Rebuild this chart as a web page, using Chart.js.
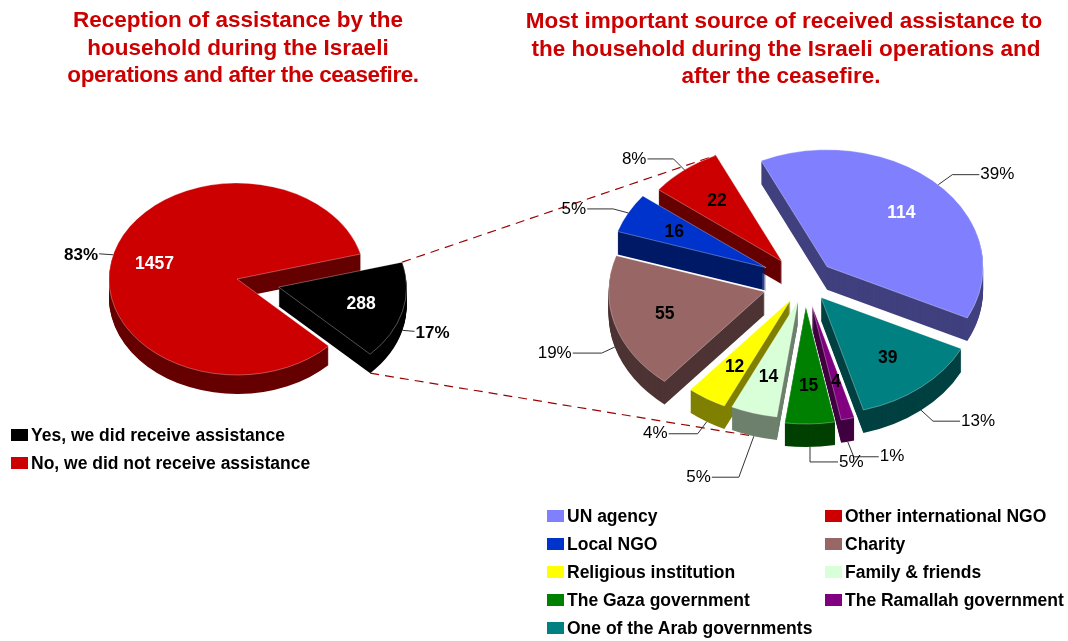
<!DOCTYPE html>
<html>
<head>
<meta charset="utf-8">
<script src="https://cdn.jsdelivr.net/npm/chart.js@4/dist/chart.umd.min.js"></script>
<style>
  html, body { margin: 0; padding: 0; background: #fff; }
  body { position: relative; width: 1068px; height: 641px; overflow: hidden; font-family: "Liberation Sans", Arial, sans-serif; }
  canvas { position: absolute; left: 0; top: 0; }
  .title { position: absolute; color: #cc0000; font-weight: bold; font-size: 22.5px; line-height: 27.7px; text-align: center; white-space: nowrap; transform: translateX(-50%); }
  .title span { position: relative; }
  .key { position: absolute; color: #000; font-weight: bold; font-size: 17.5px; line-height: 18px; white-space: nowrap; }
  .swatch { position: absolute; width: 17px; height: 12px; }
</style>
</head>
<body>
<canvas id="received"></canvas>
<canvas id="sources"></canvas>
<div class="title" style="left:238px;top:6px">Reception of assistance by the<br>household during the Israeli<br><span style="left:5px;letter-spacing:-0.43px">operations and after the ceasefire.</span></div>
<div class="title" style="left:784px;top:7px">Most important source of received assistance to<br><span style="left:2px">the household during the Israeli operations and</span><br><span style="left:-3px">after the ceasefire.</span></div>
<div id="keys"></div>
<script>
// Assistance received at all
const receivedLabels = ['Yes, we did receive assistance', 'No, we did not receive assistance'];
const receivedValues = [288, 1457];
const receivedPercents = ['17%', '83%'];
const receivedColors = ['#000000', '#cc0000'];
const receivedSides = ['#000000', '#660000'];
const receivedInk = ['#ffffff', '#ffffff'];

// Main source of the assistance
const sourceLabels = ['UN agency', 'Other international NGO', 'Local NGO', 'Charity', 'Religious institution',
  'Family & friends', 'The Gaza government', 'The Ramallah government', 'One of the Arab governments'];
const sourceValues = [114, 22, 16, 55, 12, 14, 15, 4, 39];
const sourcePercents = ['39%', '8%', '5%', '19%', '4%', '5%', '5%', '1%', '13%'];
const sourceColors = ['#8080ff', '#cc0000', '#0033cc', '#996666', '#ffff00', '#d9ffd9', '#008000', '#800080', '#008080'];
const sourceSides = ['#40407f', '#660000', '#001a66', '#4d3333', '#808000', '#6d806d', '#004000', '#400040', '#004040'];
const sourceInk = ['#ffffff', '#000', '#000', '#000', '#000', '#000', '#000', '#000', '#000'];

// Slice explosion and leader-line layout, in pixels
const receivedExplode = [43, 0];
const sourceExplode = [31, 37, 44, 42, 27, 25, 32, 30, 25];
const receivedLeaders = [[[12, 1]], [[-14, -1]]];
const sourceLeaders = [
  [[14, -10], [41, -10]], [[-11, -11], [-37, -11]], [[-15, -4], [-41, -4]],
  [[-13, 6], [-42, 6]], [[-9, 12], [-38, 12]], [[-15, 41], [-42, 41]],
  [[0, 15], [28, 15]], [[6, 15], [31, 15]], [[12, 11], [39, 11]]
];

const SQUASH = 0.75;
const FONT = '"Liberation Sans", Arial, sans-serif';

// Geometry of one slice after tilting and exploding it
function sliceGeometry(chart, i) {
  const arc = chart.getDatasetMeta(0).data[i];
  const p = arc.getProps(['x', 'y', 'startAngle', 'endAngle', 'outerRadius'], true);
  const mid = (p.startAngle + p.endAngle) / 2;
  const off = arc.options.offset || 0;
  return {
    index: i, mid, start: p.startAngle, end: p.endAngle, r: p.outerRadius,
    ax: p.x + Math.cos(mid) * off,
    ay: p.y + Math.sin(mid) * off * SQUASH
  };
}

function rimPoint(g, angle, depth) {
  return {
    x: g.ax + Math.cos(angle) * g.r,
    y: g.ay + Math.sin(angle) * g.r * SQUASH + (depth || 0)
  };
}

function tracePath(ctx, g, dy) {
  ctx.save();
  ctx.translate(g.ax, g.ay + dy);
  ctx.scale(1, SQUASH);
  ctx.beginPath();
  ctx.moveTo(0, 0);
  ctx.arc(0, 0, g.r, g.start, g.end);
  ctx.closePath();
  ctx.restore();
}

// Tilted pie with side walls, value labels and leader lines
const tiltedPie = {
  id: 'tiltedPie',
  beforeDatasetDraw(chart, args, opts) {
    const ctx = chart.ctx;
    if (opts.connectors) opts.connectors(ctx, chart);
    const n = chart.getDatasetMeta(0).data.length;
    const slices = [];
    for (let i = 0; i < n; i++) slices.push(sliceGeometry(chart, i));
    slices.sort((a, b) => Math.sin(a.mid) - Math.sin(b.mid));
    const ds = chart.data.datasets[0];
    slices.forEach(g => {
      ctx.fillStyle = opts.sides[g.index];
      for (let d = opts.depth; d > 0; d -= 1) {
        tracePath(ctx, g, d);
        ctx.fill();
      }
      tracePath(ctx, g, 0);
      ctx.fillStyle = ds.backgroundColor[g.index];
      ctx.fill();
      ctx.strokeStyle = 'rgba(255,255,255,0.45)';
      ctx.lineWidth = 0.7;
      ctx.stroke();
    });
    return false;
  },
  afterDatasetsDraw(chart, args, opts) {
    const ctx = chart.ctx;
    const n = chart.getDatasetMeta(0).data.length;
    const ds = chart.data.datasets[0];
    ctx.save();
    ctx.textBaseline = 'middle';
    for (let i = 0; i < n; i++) {
      const g = sliceGeometry(chart, i);
      // leader line from the rim to the percentage
      const s = rimPoint(g, g.mid, Math.sin(g.mid) > 0 ? opts.depth : 0);
      const legs = opts.leaders[i];
      ctx.beginPath();
      ctx.moveTo(s.x, s.y);
      legs.forEach(l => ctx.lineTo(s.x + l[0], s.y + l[1]));
      ctx.strokeStyle = '#333';
      ctx.lineWidth = 1;
      ctx.stroke();
      const last = legs[legs.length - 1];
      const right = last[0] < 0;
      ctx.textAlign = right ? 'right' : 'left';
      ctx.fillStyle = '#000';
      ctx.font = (opts.boldPercent ? 'bold ' : '') + '17px ' + FONT;
      ctx.fillText(opts.percents[i], s.x + last[0] + (right ? -1 : 1), s.y + last[1] + (opts.boldPercent ? 2 : 0));
    }
    ctx.textAlign = 'center';
    ctx.font = 'bold 17.5px ' + FONT;
    for (let i = 0; i < n; i++) {
      const g = sliceGeometry(chart, i);
      ctx.fillStyle = opts.ink[i];
      ctx.fillText(String(ds.data[i]), g.ax + Math.cos(g.mid) * g.r * 2 / 3, g.ay + Math.sin(g.mid) * g.r * 2 / 3 * SQUASH + 1);
    }
    ctx.restore();
  }
};

function pieOptions(radius, rotation, padding, pluginOpts) {
  return {
    responsive: false,
    animation: false,
    radius,
    rotation,
    layout: { padding },
    events: [],
    plugins: { legend: { display: false }, tooltip: { enabled: false }, tiltedPie: pluginOpts }
  };
}

function sizeCanvas(id) {
  const c = document.getElementById(id);
  c.width = 1068; c.height = 641;
  c.style.width = '1068px'; c.style.height = '641px';
  return c;
}

const receivedChart = new Chart(sizeCanvas('received'), {
  type: 'pie',
  data: {
    labels: receivedLabels,
    datasets: [{ data: receivedValues, backgroundColor: receivedColors, offset: receivedExplode, borderWidth: 0 }]
  },
  plugins: [tiltedPie],
  options: pieOptions(128, 74.9, { right: 594, bottom: 83 }, {
    depth: 19, sides: receivedSides, ink: receivedInk, percents: receivedPercents,
    leaders: receivedLeaders, boldPercent: true
  })
});

// The source pie runs anticlockwise on the page, so its slices are fed in reverse
const rev = a => a.slice().reverse();

function drawConnectors(ctx, chart) {
  const yes = sliceGeometry(receivedChart, 0);
  const n = sourceValues.length;
  const other = sliceGeometry(chart, n - 1 - 1);
  const family = sliceGeometry(chart, n - 1 - 5);
  const a = rimPoint(yes, yes.start, 0);
  const b = rimPoint(other, other.end, 0);
  const c = rimPoint(yes, yes.end, 19);
  const d = rimPoint(family, family.mid, 23);
  ctx.save();
  ctx.strokeStyle = '#990000';
  ctx.lineWidth = 1.2;
  ctx.setLineDash([9, 6]);
  ctx.beginPath();
  ctx.moveTo(a.x, a.y); ctx.lineTo(b.x, b.y);
  ctx.moveTo(c.x, c.y); ctx.lineTo(d.x, d.y);
  ctx.stroke();
  ctx.restore();
}

new Chart(sizeCanvas('sources'), {
  type: 'pie',
  data: {
    labels: rev(sourceLabels),
    datasets: [{ data: rev(sourceValues), backgroundColor: rev(sourceColors), offset: rev(sourceExplode), borderWidth: 0 }]
  },
  plugins: [tiltedPie],
  options: pieOptions(156, 116, { left: 542, bottom: 75 }, {
    depth: 23, sides: rev(sourceSides), ink: rev(sourceInk), percents: rev(sourcePercents),
    leaders: rev(sourceLeaders), boldPercent: false, connectors: drawConnectors
  })
});

// Legends
function addKey(label, color, x, y) {
  const keys = document.getElementById('keys');
  const sw = document.createElement('div');
  sw.className = 'swatch';
  sw.style.cssText = `left:${x}px;top:${y - 6}px;background:${color}`;
  const t = document.createElement('div');
  t.className = 'key';
  t.style.cssText = `left:${x + 20}px;top:${y - 9}px`;
  t.textContent = label;
  keys.appendChild(sw);
  keys.appendChild(t);
}
receivedLabels.forEach((l, i) => addKey(l, receivedColors[i], 11, 435 + i * 28));
sourceLabels.forEach((l, i) => addKey(l, sourceColors[i], i % 2 ? 825 : 547, 516 + Math.floor(i / 2) * 28));
</script>
</body>
</html>
